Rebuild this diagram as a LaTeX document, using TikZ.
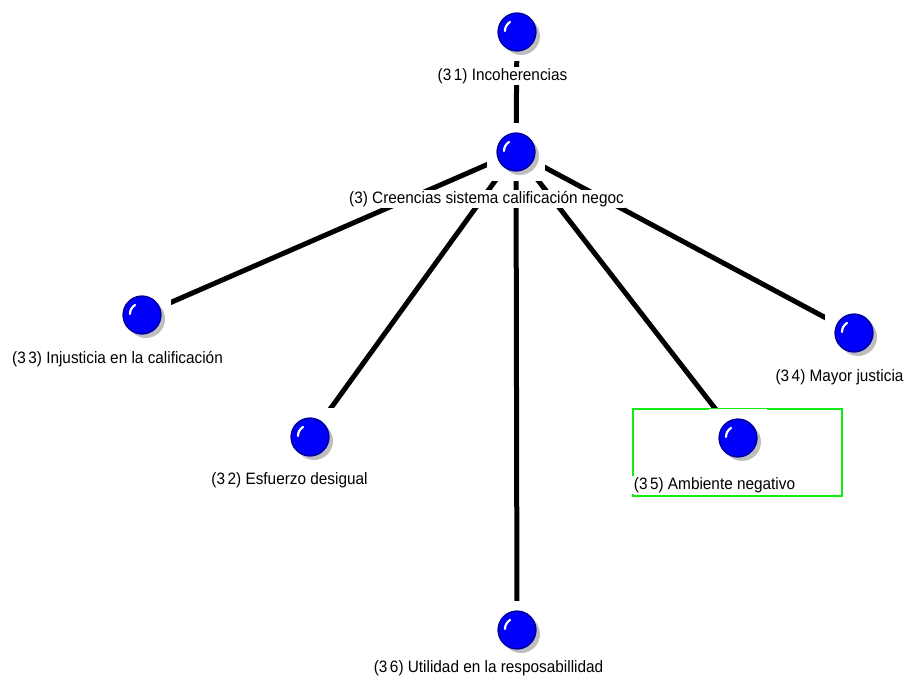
\documentclass[tikz,border=0pt]{standalone}
\usepackage{fontspec}
\setmainfont{Liberation Sans}
\usetikzlibrary{backgrounds}
\definecolor{ballblue}{RGB}{0,0,250}
\definecolor{rimblue}{RGB}{0,0,150}
\definecolor{shadowgray}{RGB}{190,190,190}
\definecolor{selgreen}{RGB}{20,235,20}
\newcommand{\lbltext}[1]{\scalebox{0.93}[1]{#1}}
\begin{document}
\begin{tikzpicture}[x=1pt,y=-1pt,
  conn/.style={line width=5pt, black},
  lbl/.style={fill=white, inner sep=1.5pt, font=\fontsize{16.5}{17}\selectfont},
  sphere/.style={rectangle, fill=white, minimum size=58pt, inner sep=0pt,
    path picture={
      \begin{scope}[shift={(path picture bounding box.center)}]
        \fill[shadowgray] (4,4) circle[radius=19];
        \fill[ballblue] (0,0) circle[radius=19.5];
        \draw[rimblue, line width=1.3pt] (0,0) circle[radius=18.8];
        \draw[white, line width=2.2pt, line cap=round] (-12,-1) .. controls (-12,-5) and (-10,-8) .. (-7,-10);
      \end{scope}}},
  selbox/.style={rectangle, draw=selgreen, fill=white, line width=2.6pt, minimum width=209pt, minimum height=87pt, inner sep=0pt}
]
\useasboundingbox (0,0) rectangle (907,679);
% selection box
\node[selbox] (sel) at (737.5,452.5) {};
% spheres
\node[sphere] (n31) at (517,32) {};
\node[sphere] (n3) at (516,152) {};
\node[sphere] (n33) at (142,315) {};
\node[sphere] (n32) at (310,437) {};
\node[sphere] (n36) at (517,630) {};
\node[sphere] (n35) at (738,438) {};
\node[sphere] (n34) at (854,333) {};
% labels
\node[lbl] (l31) at (502.5,76) {\lbltext{(3\,1) Incoherencias}};
\node[lbl] (l3) at (486.5,199) {\lbltext{(3) Creencias sistema calificación negoc}};
\node[lbl] (l33) at (117.5,359) {\lbltext{(3\,3) Injusticia en la calificación}};
\node[lbl] (l32) at (289.5,480) {\lbltext{(3\,2) Esfuerzo desigual}};
\node[lbl] (l34) at (839.5,377) {\lbltext{(3\,4) Mayor justicia}};
\node[lbl] (l35) at (714.5,485) {\lbltext{(3\,5) Ambiente negativo}};
\node[lbl] (l36) at (488.5,668) {\lbltext{(3\,6) Utilidad en la resposabillidad}};
% connectors
\begin{pgfonlayer}{background}
\draw[conn] (n31.center) -- (n3.center);
\draw[conn] (n3.center) -- (n33.center);
\draw[conn] (n3.center) -- (n32.center);
\draw[conn] (n3.center) -- (n36.center);
\draw[conn] (n3.center) -- (n35.center);
\draw[conn] (n3.center) -- (n34.center);
\end{pgfonlayer}
\end{tikzpicture}
\end{document}
